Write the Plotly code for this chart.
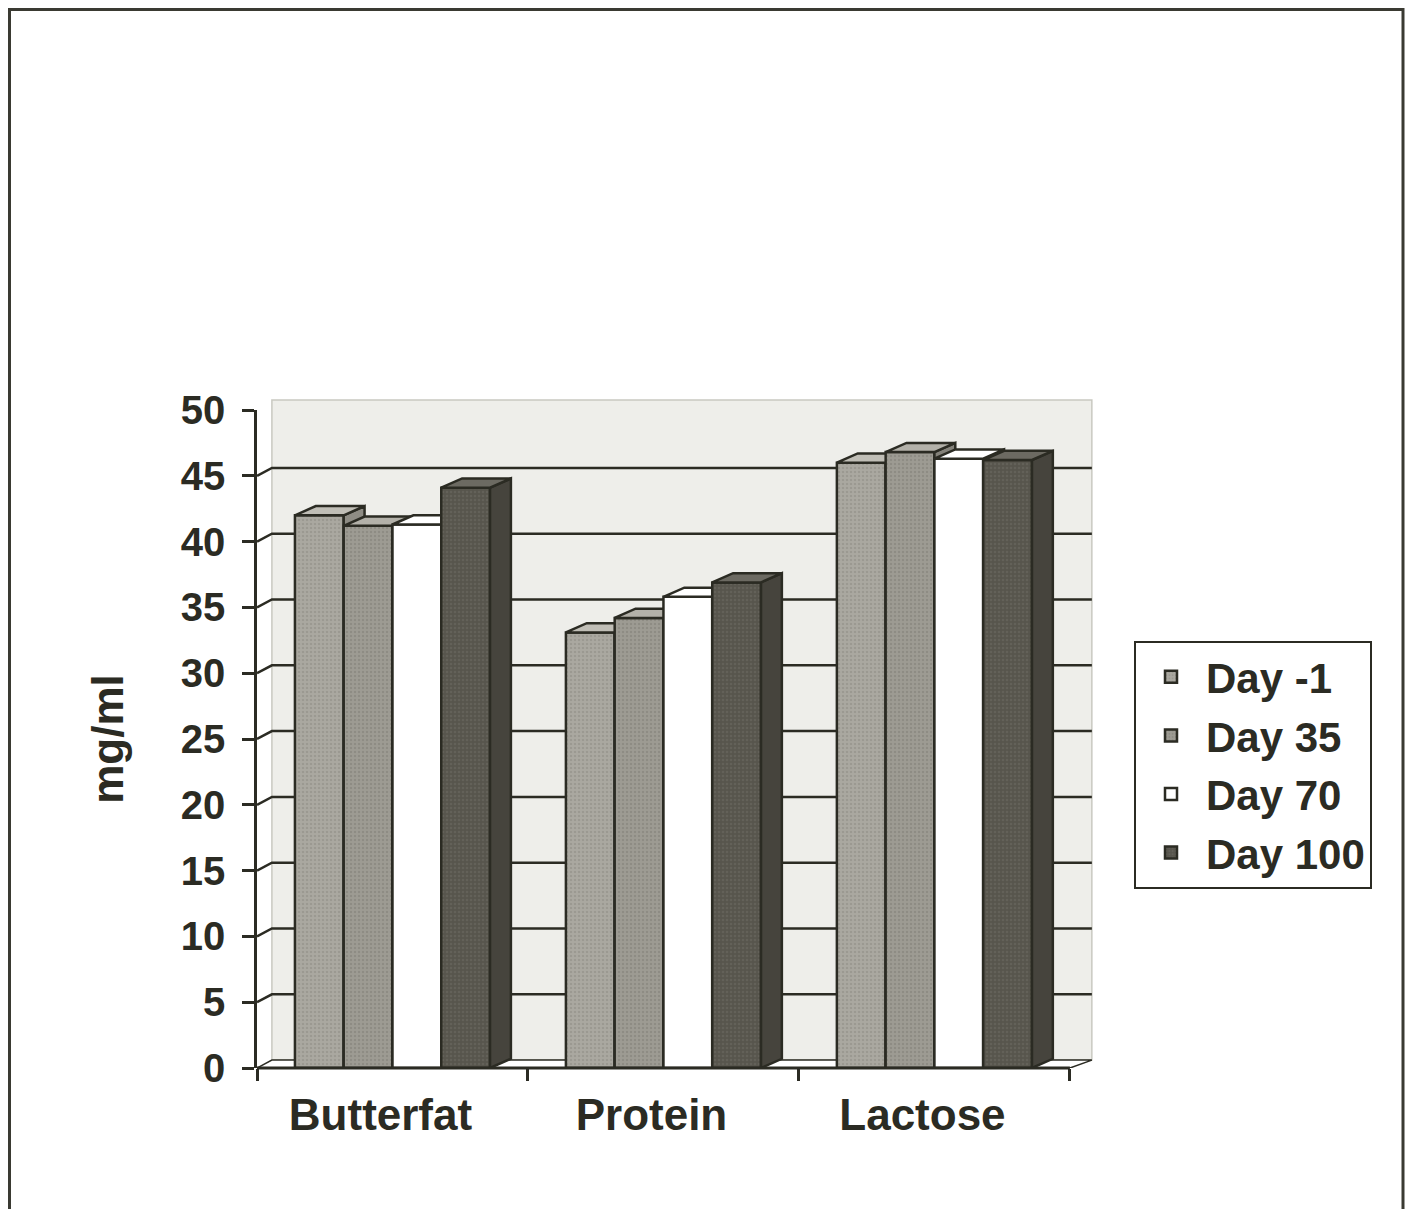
import numpy as np
import plotly.graph_objects as go

# ---------------- data ----------------
categories = ["Butterfat", "Protein", "Lactose"]
series_names = ["Day -1", "Day 35", "Day 70", "Day 100"]
day_minus1 = [42.0, 33.1, 46.0]
day_35 = [41.2, 34.2, 46.8]
day_70 = [41.3, 35.8, 46.3]
day_100 = [44.1, 36.9, 46.2]
series_values = [day_minus1, day_35, day_70, day_100]
y_tick_values = [0, 5, 10, 15, 20, 25, 30, 35, 40, 45, 50]
y_title = "mg/ml"

# ---------------- style ----------------
FONT = "Liberation Sans, Arial, sans-serif"
INK = "#2b2b23"
front_colors = ["#aaa8a0", "#9d9b93", "#ffffff", "#57554d"]
dot_colors = ["#8c8a82", "#7e7c74", "#ffffff", "#6e6c64"]
top_colors = ["#c0beb6", "#b3b1a9", "#ffffff", "#6c6a62"]
side_colors = ["#8e8c84", "#84827a", "#f2f2ee", "#46443d"]

Y_MIN, Y_MAX = 0, 50
X_MIN, X_MAX = -0.5, 2.6
GROUP_W = 0.72
BAR_W = GROUP_W / len(series_names)
DX, DY = 0.077, 0.7           # bar depth offsets (x units, y units)
WALL_DXL, WALL_DXR, WALL_DY = 0.055, 0.081, 0.6
WALL_TOP = 50.76

fig = go.Figure()

# invisible trace that defines the category axis
fig.add_trace(go.Scatter(x=categories, y=[0] * len(categories), mode="markers",
                         marker=dict(opacity=0), showlegend=False, hoverinfo="skip"))

for i, (name, vals) in enumerate(zip(series_names, series_values)):
    ax = f"x{i + 2}"
    v = np.array(vals, dtype=float)
    centers = np.arange(len(categories)) + (i - (len(series_names) - 1) / 2) * BAR_W
    x0 = centers - BAR_W / 2
    x1 = centers + BAR_W / 2

    sx, sy, tx, ty = [], [], [], []
    for a, b, h in zip(x0, x1, v):
        sx += [b, b + DX, b + DX, b, b, None]
        sy += [0, DY, h + DY, h, 0, None]
        tx += [a, b, b + DX, a + DX, a, None]
        ty += [h, h, h + DY, h + DY, h, None]

    fig.add_trace(go.Scatter(x=sx, y=sy, xaxis=ax, yaxis="y", mode="lines", fill="toself",
                             fillcolor=side_colors[i], line=dict(color=INK, width=2.5),
                             showlegend=False, legendgroup=name, hoverinfo="skip"))
    fig.add_trace(go.Scatter(x=tx, y=ty, xaxis=ax, yaxis="y", mode="lines", fill="toself",
                             fillcolor=top_colors[i], line=dict(color=INK, width=2.5),
                             showlegend=False, legendgroup=name, hoverinfo="skip"))
    fig.add_trace(go.Bar(x=centers, y=v, width=BAR_W, xaxis=ax, yaxis="y", name=name,
                         legendgroup=name,
                         marker=dict(color=front_colors[i],
                                     line=dict(color=INK, width=2.5),
                                     pattern=dict(shape=".", bgcolor=front_colors[i],
                                                  fgcolor=dot_colors[i], size=4,
                                                  solidity=0.3, fillmode="overlay"))))

# figure geometry (pixels inside the figure)
W, H = 1405, 1201
ML, MT, MB = 249, 402, 141
PW = 840
PH = H - MT - MB
MR = W - ML - PW

shapes = []
# outer frame (left, top, right)
shapes.append(dict(type="path", xref="paper", yref="paper",
                   path=f"M {(1.5 - ML) / PW},-0.4 L {(1.5 - ML) / PW},{(H - MB - 1.5) / PH} "
                        f"L {(1395 - ML) / PW},{(H - MB - 1.5) / PH} L {(1395 - ML) / PW},-0.4",
                   line=dict(color="#3a3a32", width=3), layer="below"))
# back wall
shapes.append(dict(type="rect", xref="x", yref="y domain",
                   x0=X_MIN + WALL_DXL, x1=2.5 + WALL_DXR,
                   y0=(WALL_DY - Y_MIN) / (Y_MAX - Y_MIN), y1=(WALL_TOP - Y_MIN) / (Y_MAX - Y_MIN),
                   fillcolor="#eeeeea", line=dict(color="#c9c9c1", width=1.5), layer="below"))
# floor
shapes.append(dict(type="path", xref="x", yref="y", layer="below",
                   path=f"M {X_MIN},0 L 2.5,0 L {2.5 + WALL_DXR},{WALL_DY} "
                        f"L {X_MIN + WALL_DXL},{WALL_DY} Z",
                   fillcolor="#ffffff", line=dict(color=INK, width=1.5)))
# gridlines on the back wall, with the diagonal connectors from the axis
for t in y_tick_values[1:-1]:
    shapes.append(dict(type="path", xref="x", yref="y", layer="below",
                       path=f"M {X_MIN},{t} L {X_MIN + WALL_DXL},{t + WALL_DY} "
                            f"L {2.5 + WALL_DXR},{t + WALL_DY}",
                       line=dict(color=INK, width=2.5)))
# x axis line
shapes.append(dict(type="line", xref="x", yref="y domain", x0=X_MIN, x1=2.5, y0=0, y1=0,
                   line=dict(color=INK, width=3), layer="above"))

layout_axes = {}
for i in range(len(series_names)):
    layout_axes[f"xaxis{i + 2}"] = dict(overlaying="x", anchor="y", type="linear",
                                        range=[X_MIN, X_MAX], visible=False, fixedrange=True)

fig.update_layout(
    width=W, height=H,
    margin=dict(l=ML, r=MR, t=MT, b=MB),
    paper_bgcolor="white", plot_bgcolor="rgba(0,0,0,0)",
    font=dict(family=FONT, color=INK),
    showlegend=True,
    barmode="overlay",
    xaxis=dict(type="category", categoryarray=categories, range=[X_MIN, X_MAX],
               tickson="boundaries", ticks="outside", ticklen=12, tickwidth=2.5, tickcolor=INK,
               showgrid=False, showline=False, zeroline=False,
               ticklabelstandoff=17, ticklabelshift=-12,
               tickfont=dict(family=FONT, size=44, color=INK, weight="bold")),
    yaxis=dict(range=[Y_MIN, Y_MAX], tickvals=y_tick_values, ticks="outside", ticklen=12,
               tickwidth=2.5, tickcolor=INK, showgrid=False, showline=True, linewidth=2.5,
               linecolor=INK, zeroline=False, ticklabelstandoff=9,
               tickfont=dict(family=FONT, size=40, color=INK, weight="bold"),
               title=dict(text=y_title, standoff=44,
                          font=dict(family=FONT, size=44, color=INK, weight="bold"))),
    legend=dict(x=(1134 - 8 - ML) / PW, y=(H - MB - (641 - 8)) / PH,
                xanchor="left", yanchor="top",
                bordercolor=INK, borderwidth=2, bgcolor="white",
                font=dict(family=FONT, size=42, color=INK, weight="bold"),
                itemwidth=60, tracegroupgap=1),
    shapes=shapes,
    **layout_axes,
)

fig.write_html("out.html")
